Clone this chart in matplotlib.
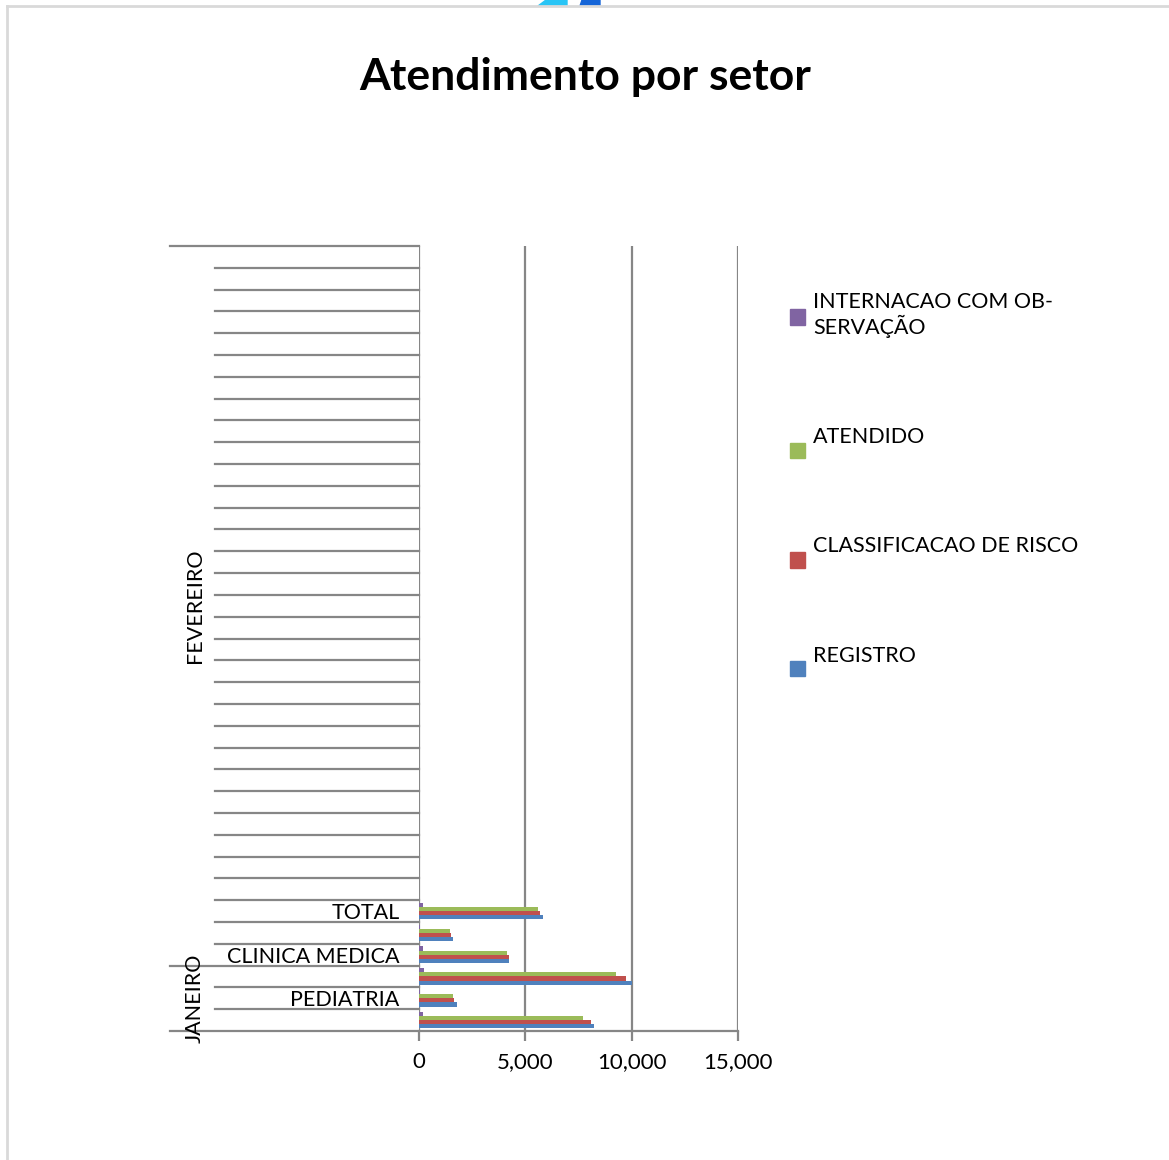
import matplotlib
matplotlib.use("Agg")
import matplotlib.pyplot as plt
from matplotlib.lines import Line2D
from matplotlib.patches import Rectangle, Polygon
import matplotlib.transforms as mtransforms

plt.rcParams['font.family'] = ['Lato', 'DejaVu Sans']

# categories (bottom to top); unlabeled slots are skipped labels in the original
setores = ['', 'PEDIATRIA', '', 'CLINICA MEDICA', '', 'TOTAL'] + [''] * 30
meses = ['JANEIRO', 'FEVEREIRO']
mes_tamanho = [3, 33]

registro = [8250, 1780, 10000, 4220, 1590, 5810]
classificacao = [8110, 1640, 9750, 4220, 1500, 5670]
atendido = [7690, 1590, 9280, 4130, 1450, 5580]
internacao = [190, 30, 230, 190, 30, 190]

series = ['REGISTRO', 'CLASSIFICACAO DE RISCO', 'ATENDIDO', 'INTERNACAO COM OB-\nSERVAÇÃO']
valores = [registro, classificacao, atendido, internacao]
cores = ['#4F81BD', '#C0504D', '#9BBB59', '#8064A2']
xticks = [0, 5000, 10000, 15000]

W, H = 1169, 1160
fig = plt.figure(figsize=(W / 100, H / 100), dpi=100)
x0, x1, y0, y1 = 419, 738, 246, 1031
ax = fig.add_axes([x0 / W, 1 - y1 / H, (x1 - x0) / W, (y1 - y0) / H])

n = len(setores)
h = 0.19
for i, (vals, c) in enumerate(zip(valores, cores)):
    pos = [k + (i - 1.5) * h for k in range(len(vals))]
    ax.barh(pos, vals, height=h, color=c, zorder=3)

grid = '#868686'
lw = 1.6
ax.set_xlim(0, 15000)
ax.set_ylim(-0.5, n - 0.5)
for s in ['top', 'right', 'left']:
    ax.spines[s].set_visible(False)
ax.spines['bottom'].set_color(grid)
ax.spines['bottom'].set_linewidth(lw)
ax.set_xticks(xticks)
ax.set_xticklabels([f'{v:,}' for v in xticks])
ax.tick_params(axis='x', length=7, width=lw, color=grid, labelsize=16, pad=8)
for v in xticks:
    ax.axvline(v, color=grid, lw=lw, zorder=1)

ax.set_yticks(range(n))
ax.set_yticklabels(setores)
ax.tick_params(axis='y', length=0, labelsize=15.5, pad=14)

# category separators and month group separators
trans = mtransforms.blended_transform_factory(ax.transAxes, ax.transData)
left_sep = -(x0 - 215) / (x1 - x0)
left_grp = -(x0 - 170) / (x1 - x0)
limites = [0]
for t in mes_tamanho:
    limites.append(limites[-1] + t)
for k in range(n + 1):
    xs = left_grp if k in limites else left_sep
    ax.add_line(Line2D([xs, 0], [k - 0.5, k - 0.5], transform=trans, color=grid,
                       lw=lw, clip_on=False))
for m, a, b in zip(meses, limites[:-1], limites[1:]):
    ax.text(-(x0 - 195) / (x1 - x0), (a + b) / 2 - 0.5, m, transform=trans, rotation=90,
            ha='center', va='center', fontsize=15.5)

fig.text(585.5 / W, 1 - 77 / H, 'Atendimento por setor', ha='center', va='center',
         fontsize=32, fontweight='bold')

# legend (top to bottom: last series first)
leg_y = [668, 560, 451, 317]
txt_y = [656, 546.5, 436.5, 315]
for s, c, ly, ty in zip(series, cores, leg_y, txt_y):
    fig.patches.append(Rectangle((790 / W, 1 - (ly + 7.5) / H), 15 / W, 15 / H,
                                 transform=fig.transFigure, color=c))
    fig.text(813 / W, 1 - ty / H, s, ha='left', va='center', fontsize=15.5,
             linespacing=1.12)

# chart border
border = '#D9D9D9'
fig.add_artist(Line2D([7 / W, 1], [1 - 6 / H, 1 - 6 / H], color=border, lw=2))
fig.add_artist(Line2D([7 / W, 7 / W], [0, 1 - 6 / H], color=border, lw=2))

# logo fragment at top edge
fig.patches.append(Polygon([(538 / W, 1 - 6 / H), (546 / W, 1), (567 / W, 1), (567 / W, 1 - 6 / H)],
                           closed=True, transform=fig.transFigure, color='#29C5F6'))
fig.patches.append(Polygon([(580 / W, 1 - 6 / H), (582 / W, 1), (600 / W, 1), (600 / W, 1 - 6 / H)],
                           closed=True, transform=fig.transFigure, color='#1565D8'))

fig.savefig('out.png', dpi=100)
